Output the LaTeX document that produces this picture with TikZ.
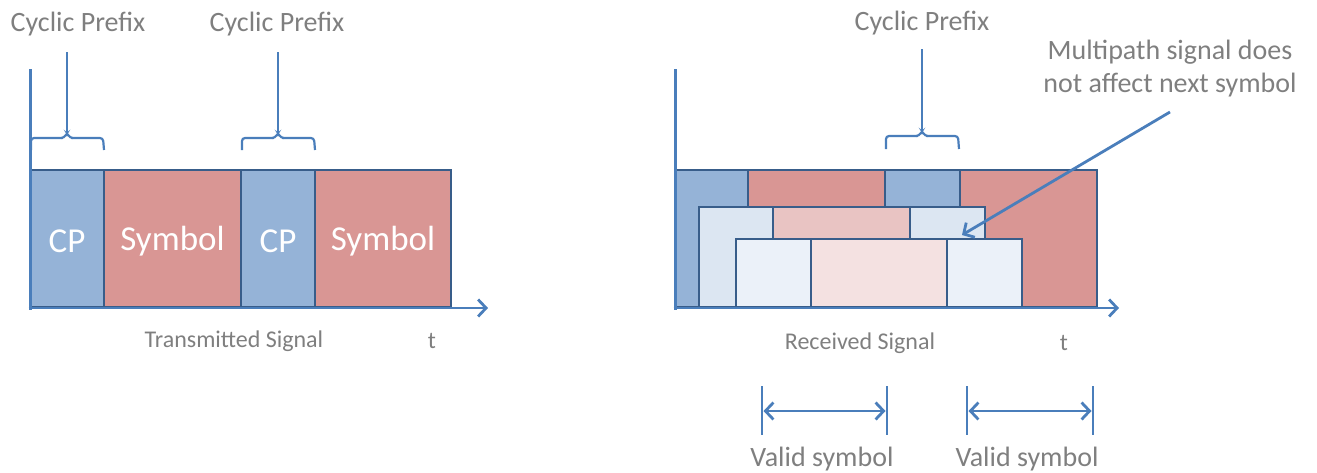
\documentclass[tikz,border=0pt]{standalone}
\usepackage{fontspec}
\setmainfont{Carlito}
\usetikzlibrary{arrows.meta}
\definecolor{cpblue}{HTML}{95B3D7}
\definecolor{symred}{HTML}{D99694}
\definecolor{cpblueB}{HTML}{DCE6F2}
\definecolor{symredB}{HTML}{E9C4C3}
\definecolor{cpblueC}{HTML}{EBF1F9}
\definecolor{symredC}{HTML}{F4E1E1}
\definecolor{edge}{HTML}{385D8A}
\definecolor{axis}{HTML}{4A7EBB}
\definecolor{txt}{HTML}{7F7F7F}
\tikzset{
  blk/.style={draw=edge, line width=2.2pt, anchor=north west, inner sep=0pt, outer sep=0pt},
  axisline/.style={draw=axis, line width=3pt},
  arrowline/.style={draw=axis, line width=2.8pt, -{Straight Barb[length=8pt,width=17pt,line width=2.8pt]}},
  bracel/.style={draw=axis, line width=2.2pt, rounded corners=3pt},
  lbl/.style={text=txt, font=\fontsize{28}{30}\selectfont, inner sep=0pt},
  slbl/.style={text=txt, font=\fontsize{24}{26}\selectfont, inner sep=0pt},
}
\newcommand{\blkbox}[7]{% name, x1, y1, x2, y2, fill, text
  \node[blk, fill=#6, minimum width={(#4-#2)*1pt}, minimum height={(#5-#3)*1pt}] (#1) at (#2,#3) {};
  \node[text=white, font=\fontsize{35}{38}\selectfont, inner sep=0pt] at ([yshift=-3pt]#1.center) {#7};}
\begin{document}
\begin{tikzpicture}[x=1pt,y=-1pt]
\useasboundingbox (0,0) rectangle (1317,472);
% ---------- left: transmitted ----------
\blkbox{tcpa}{30}{170}{104}{307}{cpblue}{CP}
\blkbox{tsya}{104}{170}{241}{307}{symred}{Symbol}
\blkbox{tcpb}{241}{170}{315}{307}{cpblue}{CP}
\blkbox{tsyb}{315}{170}{451}{307}{symred}{Symbol}
\coordinate (ltop) at (30,69);
\coordinate (lend) at (488,308);
\draw[axisline] (ltop) -- (30,310);
\draw[arrowline] (28.5,308) -- (lend);
\node[lbl] (cpl1) at (78,24) {Cyclic Prefix};
\node[lbl] (cpl2) at (277,24) {Cyclic Prefix};
\draw[bracel] (31,150) -- (31,138) -- (64,138) -- (67,133) -- (70,138) -- (103,138) -- (104,150);
\draw[axis, line width=2.2pt] (67,52) -- (67,134);
\draw[bracel] (242,150) -- (242,138) -- (275,138) -- (278,133) -- (281,138) -- (314,138) -- (315,150);
\draw[axis, line width=2.2pt] (278,52) -- (278,134);
\node[slbl] (tsig) at (234,341) {Transmitted Signal};
\node[slbl] (tt1) at (432,341) {t};
% ---------- right: received ----------
\blkbox{r1a}{676}{170}{748}{307}{cpblue}{}
\blkbox{r1b}{748}{170}{885}{307}{symred}{}
\blkbox{r1c}{885}{170}{960}{307}{cpblue}{}
\blkbox{r1d}{960}{170}{1097}{307}{symred}{}
\blkbox{r2a}{699}{207}{773}{307}{cpblueB}{}
\blkbox{r2b}{773}{207}{910}{307}{symredB}{}
\blkbox{r2c}{910}{207}{985}{307}{cpblueB}{}
\blkbox{r3a}{736}{239}{811}{307}{cpblueC}{}
\blkbox{r3b}{811}{239}{947}{307}{symredC}{}
\blkbox{r3c}{947}{239}{1022}{307}{cpblueC}{}
\coordinate (rtop) at (675,69);
\coordinate (rend) at (1119,308);
\draw[axisline] (rtop) -- (675,310);
\draw[arrowline] (673.5,308) -- (rend);
\node[lbl] (cpl3) at (922,23) {Cyclic Prefix};
\draw[bracel] (886,149) -- (886,136) -- (919,136) -- (922,131) -- (925,136) -- (958,136) -- (959,149);
\draw[axis, line width=2.2pt] (922,49) -- (922,132);
\node[lbl, align=center] (mp) at (1170,69) {Multipath signal does\\[3pt]not affect next symbol};
\coordinate (mps) at (1170,112);
\coordinate (mpe) at (962,235);
\draw[arrowline] (mps) -- (mpe);
\node[slbl] (rsig) at (860,343) {Received Signal};
\node[slbl] (tt2) at (1064,343) {t};
% valid symbol markers
\coordinate (v1a) at (762,386); \coordinate (v1b) at (762,435);
\coordinate (v2a) at (887,386); \coordinate (v2b) at (887,435);
\coordinate (v3a) at (967,386); \coordinate (v3b) at (967,435);
\coordinate (v4a) at (1093,386); \coordinate (v4b) at (1093,435);
\draw[axis, line width=2.8pt] (v1a) -- (v1b) (v2a) -- (v2b) (v3a) -- (v3b) (v4a) -- (v4b);
\draw[axis, line width=2.8pt, {Straight Barb[length=8pt,width=17pt,line width=2.8pt]}-{Straight Barb[length=8pt,width=17pt,line width=2.8pt]}] (763.5,411) -- (885.5,411);
\draw[axis, line width=2.8pt, {Straight Barb[length=8pt,width=17pt,line width=2.8pt]}-{Straight Barb[length=8pt,width=17pt,line width=2.8pt]}] (968.5,411) -- (1091.5,411);
\node[lbl] (vs1) at (822,459) {Valid symbol};
\node[lbl] (vs2) at (1027,459) {Valid symbol};
\end{tikzpicture}
\end{document}
